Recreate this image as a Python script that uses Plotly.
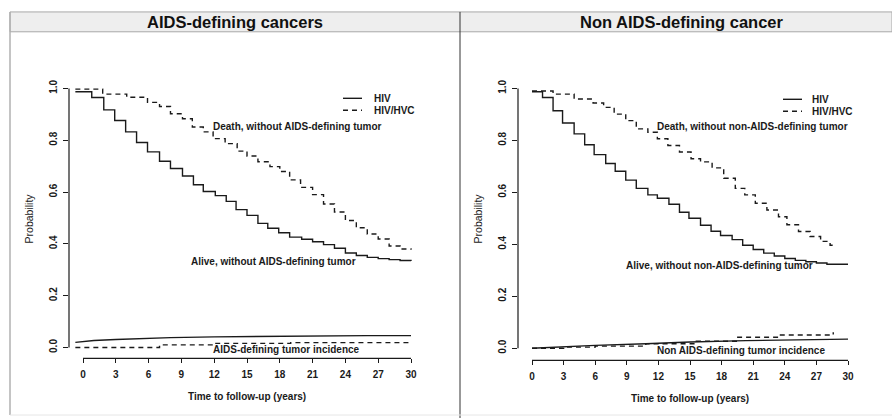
import plotly.graph_objects as go

W, H = 892, 418

# ---- AIDS-defining cancers panel ----
adc_alive_hiv_t = [-0.7, 0.8, 1.9, 2.9, 3.9, 4.9, 5.9, 7.0, 8.0, 9.1, 10.1, 11.0, 12.1, 13.1, 14.0,
                   15.0, 16.0, 16.9, 17.9, 18.9, 20.0, 21.0, 22.0, 23.0, 24.0, 25.0, 26.0, 27.0, 28.0, 29.0, 30.0]
adc_alive_hiv_p = [0.987, 0.965, 0.917, 0.876, 0.832, 0.791, 0.755, 0.719, 0.691, 0.662, 0.628, 0.602, 0.586, 0.564,
                   0.532, 0.510, 0.479, 0.460, 0.443, 0.426, 0.418, 0.408, 0.397, 0.383, 0.365, 0.355, 0.348, 0.343,
                   0.339, 0.336, 0.334]
adc_death_hvc_t = [-0.7, 1.8, 4.0, 5.9, 7.0, 8.0, 9.1, 10.0, 11.0, 11.9, 13.0, 14.1, 15.0, 16.0, 17.1, 18.0,
                   18.9, 19.9, 21.0, 22.0, 23.0, 24.0, 25.0, 26.0, 27.0, 28.0, 29.0, 30.0]
adc_death_hvc_p = [0.997, 0.978, 0.966, 0.946, 0.930, 0.902, 0.883, 0.851, 0.832, 0.806, 0.787, 0.758, 0.739,
                   0.717, 0.698, 0.679, 0.647, 0.618, 0.590, 0.554, 0.523, 0.490, 0.462, 0.438, 0.419, 0.392,
                   0.380, 0.377]
adc_inc_hiv_t = [-0.7, 1, 3, 5, 8, 12, 16, 19, 22, 26, 30]
adc_inc_hiv_p = [0.020, 0.027, 0.031, 0.034, 0.038, 0.041, 0.043, 0.045, 0.045, 0.046, 0.046]
adc_inc_hvc_t = [-0.7, 7.0, 12.0, 19.0, 30.0]
adc_inc_hvc_p = [0.000, 0.010, 0.016, 0.019, 0.019]

# ---- Non AIDS-defining cancer panel ----
nadc_alive_hiv_t = [0, 1.0, 2.0, 2.9, 4.0, 5.0, 5.9, 7.0, 7.9, 8.9, 9.9, 11.0, 11.9, 13.0, 14.0, 14.9, 16.0,
                    17.0, 17.9, 19.0, 20.0, 21.0, 22.0, 23.0, 24.0, 25.0, 26.0, 27.0, 28.0, 30.0]
nadc_alive_hiv_p = [0.987, 0.965, 0.914, 0.867, 0.825, 0.783, 0.745, 0.711, 0.681, 0.647, 0.615, 0.590, 0.577,
                    0.554, 0.523, 0.500, 0.473, 0.450, 0.434, 0.418, 0.396, 0.380, 0.366, 0.355, 0.345, 0.338,
                    0.333, 0.328, 0.323, 0.323]
nadc_death_hvc_t = [0, 2.0, 4.0, 5.8, 6.8, 7.8, 8.9, 9.9, 11.0, 11.9, 12.9, 14.0, 15.1, 16.0, 17.1, 18.2, 19.3,
                    20.2, 21.2, 22.3, 23.4, 24.2, 25.3, 26.4, 27.4, 28.3, 28.6]
nadc_death_hvc_p = [0.990, 0.978, 0.959, 0.944, 0.927, 0.901, 0.876, 0.844, 0.831, 0.806, 0.780, 0.755, 0.729,
                    0.717, 0.694, 0.654, 0.615, 0.590, 0.558, 0.532, 0.506, 0.475, 0.449, 0.430, 0.411, 0.396,
                    0.396]
nadc_inc_hiv_t = [0, 3, 6, 10.8, 15, 20.3, 25, 30]
nadc_inc_hiv_p = [0.000, 0.006, 0.011, 0.017, 0.024, 0.029, 0.033, 0.035]
nadc_inc_hvc_t = [0, 3, 6, 10.8, 15.6, 19.4, 23.5, 28.6]
nadc_inc_hvc_p = [0.000, 0.004, 0.008, 0.017, 0.027, 0.042, 0.051, 0.061]

x_ticks = [0, 3, 6, 9, 12, 15, 18, 21, 24, 27, 30]
y_ticks = [0.0, 0.2, 0.4, 0.6, 0.8, 1.0]
y_tick_text = ["0.0", "0.2", "0.4", "0.6", "0.8", "1.0"]

panel_titles = ["AIDS-defining cancers", "Non AIDS-defining cancer"]
legend_names = ["HIV", "HIV/HVC"]
left_labels = ["Death, without AIDS-defining tumor", "Alive, without AIDS-defining tumor",
               "AIDS-defining tumor incidence"]
right_labels = ["Death, without non-AIDS-defining tumor", "Alive, without non-AIDS-defining tumor",
                "Non AIDS-defining tumor incidence"]

FONT = "Liberation Sans, Arial, sans-serif"
INK = "#1a1a1a"
DASH = "5px,4px"


def px(x):
    return x / W


def py(y):
    return 1 - y / H


fig = go.Figure()

panels = [
    dict(xa="x", ya="y", alive=(adc_alive_hiv_t, adc_alive_hiv_p), death=(adc_death_hvc_t, adc_death_hvc_p),
         inc_s=(adc_inc_hiv_t, adc_inc_hiv_p), inc_d=(adc_inc_hvc_t, adc_inc_hvc_p)),
    dict(xa="x2", ya="y2", alive=(nadc_alive_hiv_t, nadc_alive_hiv_p), death=(nadc_death_hvc_t, nadc_death_hvc_p),
         inc_s=(nadc_inc_hiv_t, nadc_inc_hiv_p), inc_d=(nadc_inc_hvc_t, nadc_inc_hvc_p)),
]

for p in panels:
    t, v = p["alive"]
    fig.add_trace(go.Scatter(x=t, y=v, mode="lines", line=dict(color=INK, width=1.4, shape="hv"),
                             xaxis=p["xa"], yaxis=p["ya"], showlegend=False))
    t, v = p["death"]
    fig.add_trace(go.Scatter(x=t, y=v, mode="lines", line=dict(color=INK, width=1.4, shape="hv", dash=DASH),
                             xaxis=p["xa"], yaxis=p["ya"], showlegend=False))
    t, v = p["inc_s"]
    fig.add_trace(go.Scatter(x=t, y=v, mode="lines", line=dict(color=INK, width=1.4),
                             xaxis=p["xa"], yaxis=p["ya"], showlegend=False))
    t, v = p["inc_d"]
    fig.add_trace(go.Scatter(x=t, y=v, mode="lines", line=dict(color=INK, width=1.4, shape="hv", dash=DASH),
                             xaxis=p["xa"], yaxis=p["ya"], showlegend=False))

tickfont = dict(family=FONT, size=10, color=INK, weight="bold")
common_x = dict(tickmode="array", tickvals=x_ticks, ticks="outside", ticklen=4, tickwidth=1.2,
                tickcolor=INK, showgrid=False, zeroline=False, showline=False, tickfont=tickfont,
                ticklabelstandoff=3)
common_y = dict(tickmode="array", tickvals=y_ticks, ticktext=y_tick_text, ticks="outside", ticklen=5,
                tickwidth=1.2, tickcolor=INK, showgrid=False, zeroline=False, showline=False,
                tickangle=-90, tickfont=tickfont, ticklabelstandoff=2)

# left panel: x 0 -> 83px, 30 -> 411px ; y 0 -> 347px, 1 -> 86px
lx0, lx1 = 69, 425
ly0, ly1 = 80, 358
lsx = (411 - 83) / 30
lsy = (347 - 86)
# right panel: x 0 -> 532px, 30 -> 848px ; y 0 -> 347.7px, 1 -> 86px
rx0, rx1 = 518, 862
ry0, ry1 = 80, 360
rsx = (848 - 532) / 30
rsy = (347.7 - 86)

fig.update_layout(
    xaxis=dict(domain=[px(lx0), px(lx1)], anchor="y",
               range=[(lx0 - 83) / lsx, (lx1 - 83) / lsx], **common_x),
    yaxis=dict(domain=[py(ly1), py(ly0)], anchor="x",
               range=[(347 - ly1) / lsy, (347 - ly0) / lsy], **common_y),
    xaxis2=dict(domain=[px(rx0), px(rx1)], anchor="y2",
                range=[(rx0 - 532) / rsx, (rx1 - 532) / rsx], **common_x),
    yaxis2=dict(domain=[py(ry1), py(ry0)], anchor="x2",
                range=[(347.7 - ry1) / rsy, (347.7 - ry0) / rsy], **common_y),
)

shapes = []
# R-style axis lines spanning only the tick range
for xa, ya in [("x", "y"), ("x2", "y2")]:
    shapes.append(dict(type="line", xref=xa, yref=f"{ya} domain", x0=0, x1=30, y0=0, y1=0,
                       line=dict(color=INK, width=1.2)))
    shapes.append(dict(type="line", xref=f"{xa} domain", yref=ya, x0=0, x1=0, y0=0, y1=1,
                       line=dict(color=INK, width=1.2)))

# frame: title strip, panel borders, divider
shapes.append(dict(type="rect", xref="paper", yref="paper", x0=px(10), x1=px(892), y0=py(29), y1=py(9),
                   fillcolor="#eeeeee", line=dict(color="#a8a8a8", width=1), layer="below"))
shapes.append(dict(type="line", xref="paper", yref="paper", x0=px(10), x1=px(10), y0=py(415), y1=py(9),
                   line=dict(color="#b0b0b0", width=1.5)))
shapes.append(dict(type="line", xref="paper", yref="paper", x0=px(460), x1=px(460), y0=py(418), y1=py(9),
                   line=dict(color="#333333", width=1)))
shapes.append(dict(type="line", xref="paper", yref="paper", x0=px(10), x1=px(892), y0=py(415), y1=py(415),
                   line=dict(color="#e6e6e6", width=1)))

# legends
legend_pos = [(343, 362, 372, 96, 108), (783, 802, 810, 97, 109)]
annotations = []
for (l0, l1, tx, y_s, y_d) in legend_pos:
    shapes.append(dict(type="line", xref="paper", yref="paper", x0=px(l0), x1=px(l1), y0=py(y_s), y1=py(y_s),
                       line=dict(color=INK, width=1.4)))
    shapes.append(dict(type="line", xref="paper", yref="paper", x0=px(l0), x1=px(l1), y0=py(y_d), y1=py(y_d),
                       line=dict(color=INK, width=1.4, dash=DASH)))
    for name, yy in zip(legend_names, [y_s, y_d]):
        annotations.append(dict(text=name, x=px(tx), y=py(yy), xref="paper", yref="paper",
                                xanchor="left", yanchor="middle", showarrow=False,
                                font=dict(family=FONT, size=10, color=INK, weight="bold")))

lab_font = dict(family=FONT, size=10, color=INK, weight="bold")
for text, (x, y) in zip(left_labels, [(211, 124), (189, 260), (211, 349)]):
    annotations.append(dict(text=text, x=px(x), y=py(y), xref="paper", yref="paper", xanchor="left",
                            yanchor="middle", showarrow=False, font=lab_font))
for text, (x, y) in zip(right_labels, [(655, 124), (624, 264), (655, 350)]):
    annotations.append(dict(text=text, x=px(x), y=py(y), xref="paper", yref="paper", xanchor="left",
                            yanchor="middle", showarrow=False, font=lab_font))

# panel titles
for text, x in zip(panel_titles, [235, 681]):
    annotations.append(dict(text=text, x=px(x), y=py(19.5), xref="paper", yref="paper", xanchor="center",
                            yanchor="middle", showarrow=False,
                            font=dict(family=FONT, size=16.5, color="#111111", weight="bold")))

# axis titles
for x, y in [(29, 217), (478, 217)]:
    annotations.append(dict(text="Probability", x=px(x), y=py(y), xref="paper", yref="paper",
                            xanchor="center", yanchor="middle", textangle=-90, showarrow=False,
                            font=dict(family=FONT, size=10.5, color=INK)))
for x, y in [(247, 396), (690, 398)]:
    annotations.append(dict(text="Time to follow-up (years)", x=px(x), y=py(y), xref="paper", yref="paper",
                            xanchor="center", yanchor="middle", showarrow=False,
                            font=dict(family=FONT, size=10, color=INK, weight="bold")))

fig.update_layout(
    width=W, height=H, margin=dict(l=0, r=0, t=0, b=0),
    paper_bgcolor="white", plot_bgcolor="white",
    shapes=shapes, annotations=annotations, showlegend=False,
)

fig.write_html("out.html")
